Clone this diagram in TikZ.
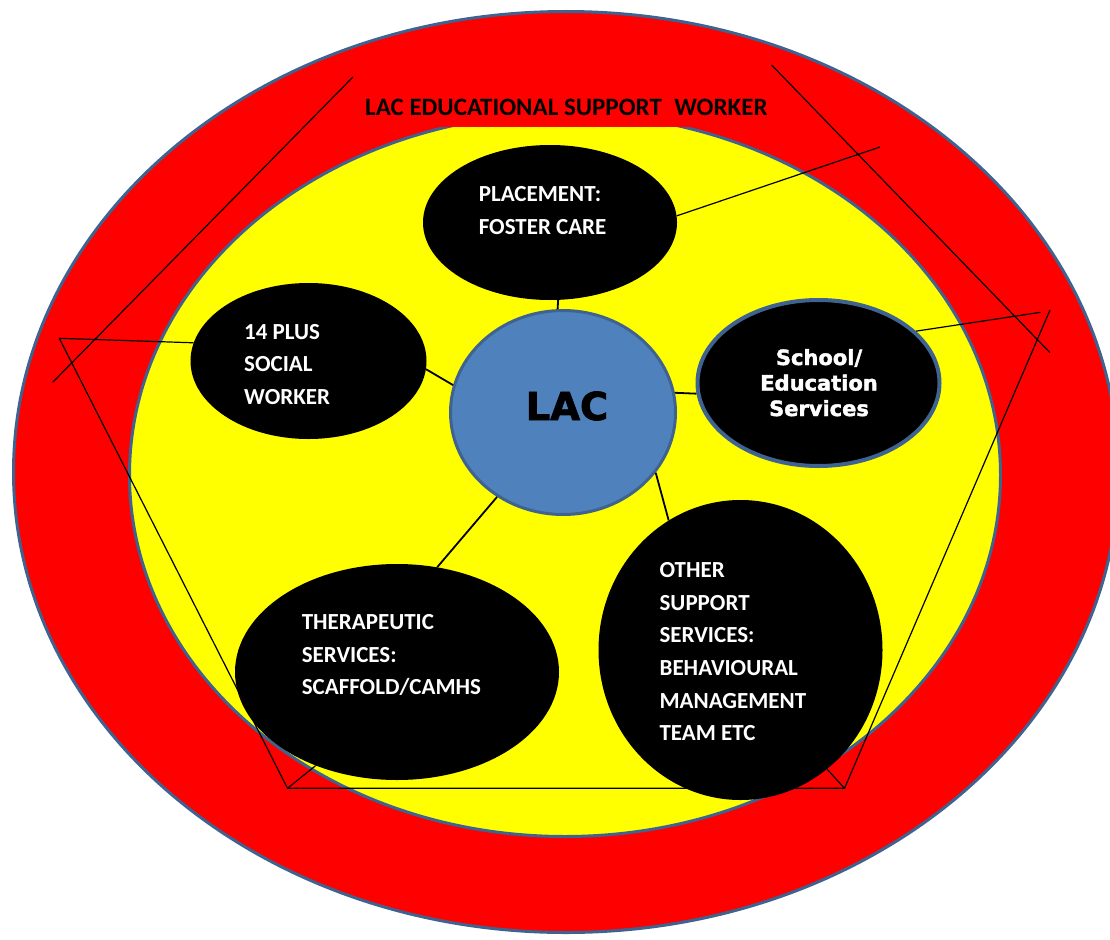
\documentclass[tikz,border=0pt]{standalone}
\usepackage{fontspec}
\setmainfont{Carlito}
\newfontfamily\heavyfont[BoldFeatures={FakeBold=2}]{DejaVu Sans}
\usetikzlibrary{shapes.geometric}
\definecolor{ringred}{HTML}{FF0000}
\definecolor{coreyellow}{HTML}{FFFF00}
\definecolor{lacblue}{HTML}{4F81BD}
\definecolor{edgeblue}{HTML}{3F6390}
\begin{document}
\begin{tikzpicture}[x=1pt,y=-1pt,
  blob/.style={ellipse, fill=black, inner sep=0pt, draw=none},
  whitetext/.style={text=white, font=\bfseries\fontsize{23}{32.7}\selectfont,
    align=left, anchor=base west, inner sep=0pt},
  heavytext/.style={font=\heavyfont\bfseries, inner sep=0pt},
  link/.style={black, line width=1.8pt},
  frameline/.style={black, line width=1.2pt},
]
\useasboundingbox (0,0) rectangle (1110,939);
\clip (0,0) rectangle (1110,939);

% outer ring and inner field
\draw[fill=ringred, draw=edgeblue, line width=3pt]
  (566,472) ellipse [x radius=552.5pt, y radius=460.5pt];
\draw[fill=coreyellow, draw=edgeblue, line width=3pt]
  (565,475) ellipse [x radius=435.5pt, y radius=361.5pt];

% title banner
\fill[ringred] (355,88) rectangle (780,127);
\node[anchor=base west, inner sep=0pt, font=\bfseries\fontsize{25}{30}\selectfont]
  (title) at (365,115.7) {LAC EDUCATIONAL SUPPORT\hspace{0.5em}WORKER};

% satellite ellipses
\node[blob, minimum width=254pt, minimum height=155pt] (place) at (550,222.5) {};
\node[blob, minimum width=236pt, minimum height=156pt] (plus) at (308.5,361) {};
\node[blob, minimum width=324pt, minimum height=216pt] (ther) at (397,672) {};
\node[blob, minimum width=284pt, minimum height=300pt] (other) at (740.5,650) {};
\node[ellipse, fill=black, draw=edgeblue, line width=4pt, inner sep=0pt,
  minimum width=242pt, minimum height=166pt] (school) at (818.5,383) {};

% centre
\node[ellipse, fill=lacblue, draw=edgeblue, line width=3pt, inner sep=0pt,
  minimum width=225pt, minimum height=204pt] (lac) at (563,412.5) {};

% connectors to the centre
\draw[link] (place.-84) -- (lac.93);
\draw[link] (plus.-4) -- (lac.166);
\draw[link] (lac.10) -- (school.185);
\draw[link] (lac.-128) -- (ther.69);
\draw[link] (lac.-33) -- (other.119);

% outer frame lines
\coordinate (p1) at (59.3,338.3);
\coordinate (p2) at (287.5,788.3);
\coordinate (p3) at (844.5,788.3);
\coordinate (p4) at (1050,310);
\coordinate (q1) at (1040.5,312.3);
\coordinate (q2) at (880,147);
\coordinate (d1a) at (353,77);
\coordinate (d1b) at (52.7,382.3);
\coordinate (d2a) at (771.6,65);
\coordinate (d2b) at (1050,352.7);
\draw[frameline] (p1) -- (p2) -- (p3) -- (p4);
\draw[frameline] (p1) -- (plus.171);
\draw[frameline] (p2) -- (ther.-131);
\draw[frameline] (p3) -- (other.-54);
\draw[frameline] (school.28) -- (q1);
\draw[frameline] (place.3) -- (q2);
\draw[frameline] (d1a) -- (d1b);
\draw[frameline] (d2a) -- (d2b);

% texts (each node is placed at the baseline of its last line)
\node[whitetext] (placetxt) at (478.6,234.4) {PLACEMENT:\\FOSTER CARE};
\node[whitetext] (plustxt) at (244,404.4) {14 PLUS\\SOCIAL\\WORKER};
\node[whitetext] (thertxt) at (301.6,694.7) {THERAPEUTIC\\SERVICES:\\SCAFFOLD/CAMHS};
\node[whitetext] (othertxt) at (659.4,740.8)
  {OTHER\\SUPPORT\\SERVICES:\\BEHAVIOURAL\\MANAGEMENT\\TEAM ETC};
\node[heavytext, text=white, align=center, anchor=base,
  font=\heavyfont\bfseries\fontsize{21}{25.5}\selectfont]
  (schooltxt) at (819,416) {School/\\Education\\Services};
\node[heavytext, anchor=base, font=\heavyfont\bfseries\fontsize{38.5}{40}\selectfont]
  (lactxt) at (567,420) {LAC};
\end{tikzpicture}
\end{document}
